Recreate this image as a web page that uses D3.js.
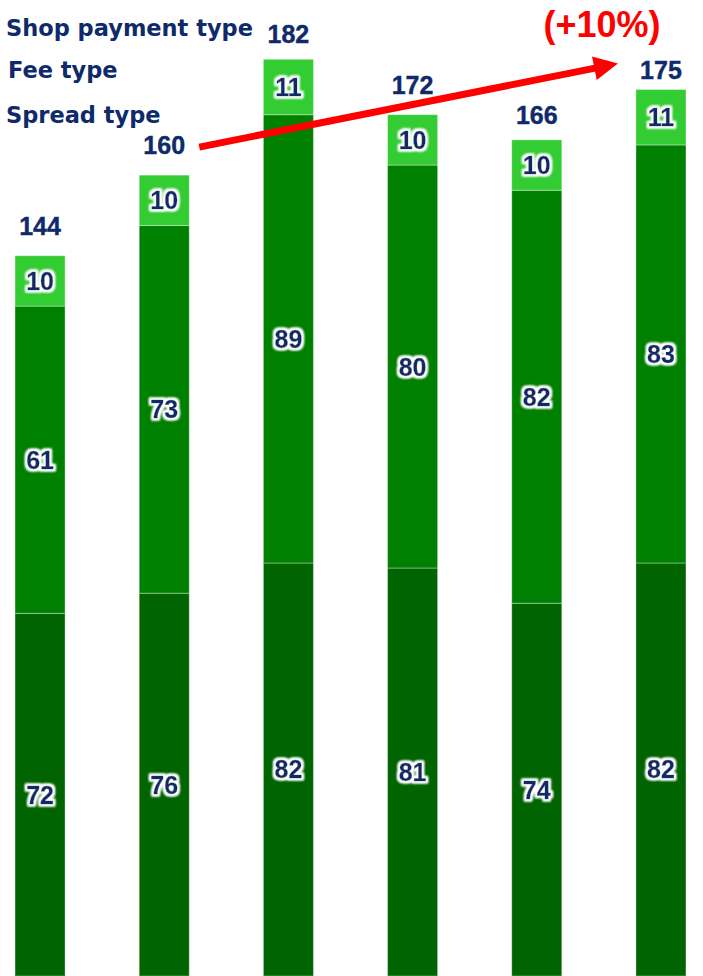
<!DOCTYPE html>
<html><head><meta charset="utf-8">
<script src="https://cdn.jsdelivr.net/npm/d3@7"></script>
<style>html,body{margin:0;padding:0;background:#fff;overflow:hidden}</style>
</head><body>
<svg id="chart" width="703" height="976"></svg>
<script>
const categories = ["1","2","3","4","5","6"];
const seriesNames = ["Spread type","Fee type","Shop payment type"];
const spreadType = [72,76,82,81,74,82];
const feeType = [61,73,89,80,82,83];
const shopPaymentType = [10,10,11,10,10,11];
const totals = [144,160,182,172,166,175];
const growthLabel = "(+10%)";

const W = 703, H = 976;
const navy = "#0f2a6b";
const colors = {"Spread type":"#006400","Fee type":"#008000","Shop payment type":"#33cc33"};

const svg = d3.select("#chart");
const defs = svg.append("defs");
const f = defs.append("filter").attr("id","glow").attr("x","-30%").attr("y","-30%").attr("width","160%").attr("height","160%");
f.append("feMorphology").attr("in","SourceAlpha").attr("operator","dilate").attr("radius",2).attr("result","d");
f.append("feGaussianBlur").attr("in","d").attr("stdDeviation",1.1).attr("result","b");
f.append("feFlood").attr("flood-color","#ffffff").attr("result","w");
f.append("feComposite").attr("in","w").attr("in2","b").attr("operator","in").attr("result","halo");
const fm = f.append("feMerge");
fm.append("feMergeNode").attr("in","halo");
fm.append("feMergeNode").attr("in","halo");
fm.append("feMergeNode").attr("in","SourceGraphic");

const x = d3.scaleBand().domain(categories).range([0, 701]).paddingInner(0.597).paddingOuter(0.121);
const y = d3.scaleLinear().domain([0, 190]).range([H, 19]);

const rows = categories.map((c,i)=>({cat:c,"Spread type":spreadType[i],"Fee type":feeType[i],"Shop payment type":shopPaymentType[i]}));
const stacked = d3.stack().keys(seriesNames)(rows);

const g = svg.append("g");
stacked.forEach(layer=>{
  g.append("g").selectAll("rect").data(layer).join("rect")
    .attr("x", d=>x(d.data.cat))
    .attr("y", d=>y(d[1]))
    .attr("width", x.bandwidth())
    .attr("height", d=>y(d[0])-y(d[1]))
    .attr("fill", colors[layer.key])
    .attr("stroke","rgba(255,255,255,0.35)")
    .attr("stroke-width",1);
});
stacked.forEach(layer=>{
  g.append("g").attr("filter","url(#glow)").selectAll("text").data(layer).join("text")
    .attr("x", d=>x(d.data.cat)+x.bandwidth()/2)
    .attr("y", d=>(y(d[0])+y(d[1]))/2)
    .attr("dy","0.36em")
    .attr("text-anchor","middle")
    .attr("font-family","'Liberation Sans', Arial, sans-serif")
    .attr("font-weight","bold")
    .attr("font-size",25)
    .attr("fill",navy)
    .attr("stroke",navy)
    .attr("stroke-width",0.4)
    .text(d=>d.data[layer.key]);
});

// totals
g.append("g").selectAll("text").data(categories).join("text")
  .attr("x", c=>x(c)+x.bandwidth()/2)
  .attr("y", (c,i)=>y(totals[i]) - 16)
  .attr("text-anchor","middle")
  .attr("font-family","'Liberation Sans', Arial, sans-serif")
  .attr("font-weight","bold")
  .attr("font-size",25)
  .attr("fill",navy)
  .attr("stroke",navy)
  .attr("stroke-width",0.4)
  .text((c,i)=>totals[i]);

// legend texts
const legendItems = ["Shop payment type","Fee type","Spread type"];
const legendPos = [[6,36],[8,78],[6,123]];
svg.append("g").selectAll("text").data(legendItems).join("text")
  .attr("x",(d,i)=>legendPos[i][0])
  .attr("y",(d,i)=>legendPos[i][1])
  .attr("font-family","'DejaVu Sans', Verdana, sans-serif")
  .attr("font-weight","bold")
  .attr("font-size",22.5)
  .attr("fill",navy)
  .text(d=>d);

// arrow
const x0 = x(categories[1]) + x.bandwidth() + 10, y0 = y(totals[1]) - 23;
const x1 = x(categories[5]) - 18, y1 = y(totals[5]) - 31;
const ang = Math.atan2(y1-y0, x1-x0);
const headLen = 24, headW = 12;
const bx = x1 - headLen*Math.cos(ang), by = y1 - headLen*Math.sin(ang);
svg.append("line").attr("x1",x0).attr("y1",y0).attr("x2",bx+2*Math.cos(ang)).attr("y2",by+2*Math.sin(ang))
  .attr("stroke","#ff0000").attr("stroke-width",7);
svg.append("path")
  .attr("d", d3.line()([[x1,y1],[bx - headW*Math.sin(ang), by + headW*Math.cos(ang)],[bx + headW*Math.sin(ang), by - headW*Math.cos(ang)]]) + "Z")
  .attr("fill","#ff0000");

svg.append("text")
  .attr("x", 602).attr("y", 37)
  .attr("text-anchor","middle")
  .attr("font-family","'Liberation Sans', Arial, sans-serif")
  .attr("font-weight","bold")
  .attr("font-size",36)
  .attr("fill","#ff0000")
  .text(growthLabel);
</script>
</body></html>
